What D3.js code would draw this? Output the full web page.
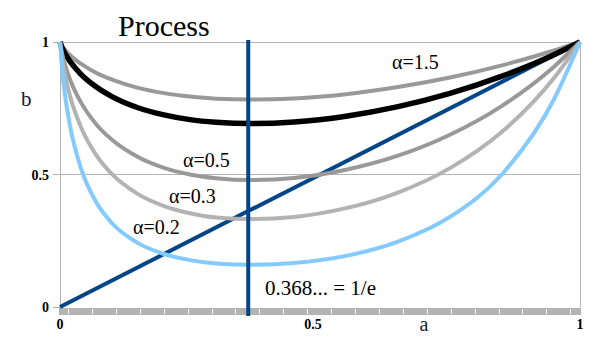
<!DOCTYPE html>
<html><head><meta charset="utf-8">
<script src="https://cdn.jsdelivr.net/npm/d3@7"></script>
<style>html,body{margin:0;padding:0;background:#fff;}svg{display:block;} text{font-family:"Liberation Serif","Times New Roman",serif;}</style>
</head><body>
<script>
// ---- data ----
const aValues = [0, 0.005, 0.01, 0.02, 0.04, 0.07, 0.1, 0.15, 0.2, 0.25, 0.3, 0.368, 0.45, 0.55, 0.65, 0.75, 0.85, 0.95, 1];
const alpha15 = [1, 0.982, 0.970, 0.949, 0.918, 0.883, 0.858, 0.827, 0.807, 0.794, 0.786, 0.783, 0.787, 0.803, 0.830, 0.866, 0.912, 0.968, 1];
const alpha10 = [1, 0.974, 0.955, 0.925, 0.879, 0.830, 0.794, 0.752, 0.725, 0.707, 0.697, 0.692, 0.698, 0.720, 0.756, 0.806, 0.871, 0.952, 1];
const alpha05 = [1, 0.948, 0.912, 0.855, 0.773, 0.689, 0.631, 0.566, 0.525, 0.500, 0.486, 0.479, 0.487, 0.518, 0.571, 0.650, 0.759, 0.907, 1];
const alpha03 = [1, 0.924, 0.871, 0.791, 0.680, 0.572, 0.501, 0.426, 0.381, 0.354, 0.338, 0.332, 0.340, 0.373, 0.432, 0.524, 0.661, 0.864, 1];
const alpha02 = [1, 0.876, 0.794, 0.676, 0.525, 0.394, 0.316, 0.241, 0.200, 0.177, 0.164, 0.159, 0.166, 0.193, 0.247, 0.340, 0.501, 0.784, 1];
const diagA = [0, 1];
const diagB = [0, 1];
const vlineA = 0.362;
const vlineB = [-0.034, 1.008];
const yTicks = [0, 0.5, 1];
const yTickLabels = ["0", "0.5", "1"];
const xTicks = [0, 0.5, 1];
const xTickLabels = ["0", "0.5", "1"];
const alphaLabels = ["α=1.5", "α=0.5", "α=0.3", "α=0.2"];
const titleText = "Process";
const xTitle = "a";
const yTitle = "b";
const noteText = "0.368... = 1/e";

// ---- drawing ----
const W = 605, H = 340;
const svg = d3.select("body").append("svg").attr("width", W).attr("height", H);
const x = d3.scaleLinear().domain([0, 1]).range([60, 580]);
const y = d3.scaleLinear().domain([0, 1]).range([307, 42]);

// gridlines / frame
const grid = svg.append("g").attr("stroke", "#b3b3b3").attr("stroke-width", 1).attr("shape-rendering", "crispEdges");
[0.5, 1].forEach(v => grid.append("line").attr("x1", x(0)).attr("x2", x(1)).attr("y1", y(v)).attr("y2", y(v)));
grid.append("line").attr("x1", x(0)).attr("x2", x(0)).attr("y1", y(1)).attr("y2", y(0));
grid.append("line").attr("x1", x(1)).attr("x2", x(1)).attr("y1", y(1)).attr("y2", y(0));
yTicks.forEach(v => grid.append("line").attr("x1", x(0) - 7).attr("x2", x(0)).attr("y1", y(v)).attr("y2", y(v)));

// bottom band with white minor ticks
svg.append("rect").attr("x", x(0) - 1).attr("y", y(0) + 1).attr("width", x(1) - x(0) + 2).attr("height", 7).attr("fill", "#b3b3b3");
const bandTicks = d3.range(22).map(i => 0.0154 + i * 0.046);
svg.append("g").selectAll("line").data(bandTicks).join("line")
  .attr("x1", d => Math.round(x(d)) + 0.5).attr("x2", d => Math.round(x(d)) + 0.5)
  .attr("y1", y(0) + 2).attr("y2", y(0) + 7).attr("stroke", "#fff").attr("stroke-width", 1);

// y tick labels
svg.append("g").selectAll("text").data(yTicks).join("text")
  .attr("x", 49).attr("y", d => y(d) + 5).attr("text-anchor", "end")
  .style("font-weight", "bold").style("font-size", "14px").attr("fill", "#000")
  .text((d, i) => yTickLabels[i]);
// x tick labels
const xLabOff = [0, -7, 0];
svg.append("g").selectAll("text").data(xTicks).join("text")
  .attr("x", (d, i) => x(d) + xLabOff[i]).attr("y", 329).attr("text-anchor", "middle")
  .style("font-weight", "bold").style("font-size", "14px").attr("fill", "#000")
  .text((d, i) => xTickLabels[i]);

// diagonal
const line = d3.line().x(d => x(d[0])).y(d => y(d[1]));
svg.append("path").datum(diagA.map((a, i) => [a, diagB[i]])).attr("d", line)
  .attr("fill", "none").attr("stroke", "#004586").attr("stroke-width", 4);

// curves
const curveLine = d3.line().x(d => x(d[0])).y(d => y(d[1])).curve(d3.curveMonotoneX);
const series = [
  {v: alpha15, c: "#999999", w: 4},
  {v: alpha10, c: "#000000", w: 5.5},
  {v: alpha05, c: "#999999", w: 4},
  {v: alpha03, c: "#b3b3b3", w: 4},
  {v: alpha02, c: "#83caff", w: 4}
];
series.forEach(s => {
  svg.append("path").datum(aValues.map((a, i) => [a, s.v[i]])).attr("d", curveLine)
    .attr("fill", "none").attr("stroke", s.c).attr("stroke-width", s.w).attr("stroke-linejoin", "round");
});

// vertical 1/e line
svg.append("line").attr("x1", x(vlineA)).attr("x2", x(vlineA)).attr("y1", y(vlineB[0])).attr("y2", y(vlineB[1]))
  .attr("stroke", "#004586").attr("stroke-width", 4);

// texts
svg.append("text").attr("x", 118).attr("y", 36).style("font-size", "30px").attr("fill", "#000").text(titleText);
svg.append("text").attr("x", 21).attr("y", 106).style("font-size", "21px").attr("fill", "#1a1a3a").text(yTitle);
svg.append("text").attr("x", 424).attr("y", 331).attr("text-anchor", "middle").style("font-size", "20px").attr("fill", "#1a1a3a").text(xTitle);
svg.append("text").attr("x", 265).attr("y", 295).style("font-size", "21px").attr("fill", "#000").text(noteText);
const labPos = [[392, 69], [183, 167], [169, 203], [133, 234]];
svg.append("g").selectAll("text").data(alphaLabels).join("text")
  .attr("x", (d, i) => labPos[i][0]).attr("y", (d, i) => labPos[i][1])
  .style("font-size", "20px").attr("fill", "#000").text(d => d);
</script>
</body></html>
